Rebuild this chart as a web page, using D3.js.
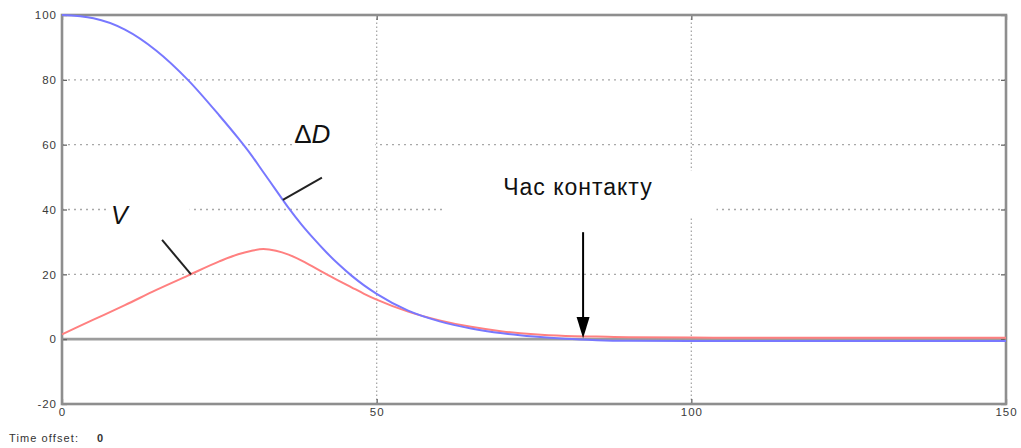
<!DOCTYPE html>
<html>
<head>
<meta charset="utf-8">
<script src="https://cdn.jsdelivr.net/npm/d3@7"></script>
<style>
  html, body { margin: 0; padding: 0; background: #fff; }
  svg { display: block; }
  text { font-family: "Liberation Sans", Arial, sans-serif; }
</style>
</head>
<body>
<svg id="chart" width="1021" height="448"></svg>
<script>
// Time axis samples
const time = [0, 5, 10, 15, 20, 25, 28, 30, 32, 34, 36, 38, 40, 42, 44, 46, 48, 50,
              55, 60, 65, 70, 75, 80, 85, 90, 100, 110, 120, 130, 140, 150];
// Distance difference ΔD
const deltaD = [100, 99, 95.5, 89, 80, 69, 62, 57, 51.5, 46, 40.5, 35.5, 31, 26.8, 23, 19.6, 16.6, 14,
                8.8, 5.5, 3.3, 1.8, 0.8, 0.1, -0.3, -0.5, -0.6, -0.6, -0.6, -0.6, -0.6, -0.6];
// Velocity V
const velocity = [1.5, 6, 10.5, 15.2, 19.6, 24, 26.2, 27.2, 27.8, 27.3, 26.1, 24.3, 22.2, 20.1, 18, 16, 14, 12.2,
                  8.5, 5.8, 3.8, 2.4, 1.5, 1, 0.8, 0.6, 0.5, 0.4, 0.4, 0.4, 0.4, 0.4];

const xTicks = [0, 50, 100, 150];
const yTicks = [-20, 0, 20, 40, 60, 80, 100];
const xGrid = [50, 100];
const yGrid = [20, 40, 60, 80];

const contactTime = 82.8;

const svg = d3.select("#chart");
const x = d3.scaleLinear().domain([0, 150]).range([62, 1006]);
const y = d3.scaleLinear().domain([-20, 100]).range([404, 15]);

// dotted grid
const grid = svg.append("g").attr("stroke", "#a8a8a8").attr("stroke-width", 1.3);
grid.selectAll("line.h").data(yGrid).join("line")
  .attr("x1", x(0)).attr("x2", x(150))
  .attr("y1", d => y(d)).attr("y2", d => y(d))
  .attr("stroke-dasharray", "2,4");
grid.selectAll("line.v").data(xGrid).join("line")
  .attr("y1", y(-20)).attr("y2", y(100))
  .attr("x1", d => x(d)).attr("x2", d => x(d))
  .attr("stroke-dasharray", "1.5,2.5");

// white backgrounds behind annotation texts
const boxes = [
  { x0: 7.3, x1: 20.3, y0: 43, y1: 33.5 },   // V
  { x0: 36.9, x1: 49.8, y0: 67, y1: 52 },    // ΔD
  { x0: 60.9, x1: 104, y0: 52, y1: 37.5 }    // Час контакту
];
svg.append("g").selectAll("rect").data(boxes).join("rect")
  .attr("x", d => x(d.x0)).attr("y", d => y(d.y0))
  .attr("width", d => x(d.x1) - x(d.x0)).attr("height", d => y(d.y1) - y(d.y0))
  .attr("fill", "#fff");

// zero line
svg.append("line")
  .attr("x1", x(0)).attr("x2", x(150)).attr("y1", y(0)).attr("y2", y(0))
  .attr("stroke", "#9c9c9c").attr("stroke-width", 2.6);

// axes with inward ticks
const fmt = d => String(d);
const axisStyle = g => {
  g.select(".domain").remove();
  g.selectAll(".tick line").attr("stroke", "#666").attr("stroke-width", 1.3);
  g.selectAll(".tick text").attr("fill", "#3a3a3a").attr("font-size", 11.5).attr("letter-spacing", 1);
};
svg.append("g").attr("transform", `translate(${x(0)},0)`)
  .call(d3.axisLeft(y).tickValues(yTicks).tickSize(-5).tickPadding(5).tickFormat(fmt))
  .call(axisStyle);
svg.append("g").attr("transform", `translate(${x(150)},0)`)
  .call(d3.axisRight(y).tickValues(yTicks).tickSize(-5).tickFormat(""))
  .call(axisStyle);
svg.append("g").attr("transform", `translate(0,${y(-20)})`)
  .call(d3.axisBottom(x).tickValues(xTicks).tickSize(-5).tickPadding(4).tickFormat(fmt))
  .call(axisStyle);
svg.append("g").attr("transform", `translate(0,${y(100)})`)
  .call(d3.axisTop(x).tickValues(xTicks).tickSize(-5).tickFormat(""))
  .call(axisStyle);

// frame
svg.append("rect")
  .attr("x", x(0)).attr("y", y(100))
  .attr("width", x(150) - x(0)).attr("height", y(-20) - y(100))
  .attr("fill", "none").attr("stroke", "#8e8e8e").attr("stroke-width", 2.6);

// curves
const line = d3.line().curve(d3.curveMonotoneX).x(d => x(d[0])).y(d => y(d[1]));
svg.append("path").datum(time.map((t, i) => [t, velocity[i]]))
  .attr("d", line).attr("fill", "none").attr("stroke", "#ff8080").attr("stroke-width", 2);
svg.append("path").datum(time.map((t, i) => [t, deltaD[i]]))
  .attr("d", line).attr("fill", "none").attr("stroke", "#7878ff").attr("stroke-width", 2);

// leader lines for curve labels
const leaders = [
  { t0: 35.1, v0: 43, t1: 41.3, v1: 49.8 },
  { t0: 20.5, v0: 20, t1: 15.9, v1: 30.6 }
];
svg.append("g").selectAll("line").data(leaders).join("line")
  .attr("x1", d => x(d.t0)).attr("y1", d => y(d.v0))
  .attr("x2", d => x(d.t1)).attr("y2", d => y(d.v1))
  .attr("stroke", "#222").attr("stroke-width", 2);

// curve labels
const lblD = svg.append("text").attr("x", x(36.9)).attr("y", y(60.5))
  .attr("font-size", 26).attr("fill", "#111");
lblD.append("tspan").text("Δ");
lblD.append("tspan").attr("font-style", "italic").text("D");
svg.append("text").attr("x", x(7.8)).attr("y", y(35.5))
  .attr("font-size", 25).attr("font-style", "italic").attr("fill", "#111").text("V");

// contact time arrow
const arrowTop = 33;
svg.append("line")
  .attr("x1", x(contactTime)).attr("x2", x(contactTime))
  .attr("y1", y(arrowTop)).attr("y2", y(6))
  .attr("stroke", "#000").attr("stroke-width", 2);
svg.append("path")
  .attr("d", `M${x(contactTime) - 6.5},${y(6.8)} L${x(contactTime) + 6.5},${y(6.8)} L${x(contactTime)},${y(0.3)} Z`)
  .attr("fill", "#000");
svg.append("text").attr("x", x(70.1)).attr("y", y(44.5))
  .attr("font-size", 23).attr("letter-spacing", 1).attr("fill", "#111").text("Час контакту");

// footer
const foot = svg.append("text").attr("x", 9).attr("y", 442).attr("font-size", 11).attr("fill", "#333");
foot.append("tspan").attr("letter-spacing", 1.1).text("Time offset:");
foot.append("tspan").attr("x", 97).attr("font-weight", "bold").text("0");
</script>
</body>
</html>
